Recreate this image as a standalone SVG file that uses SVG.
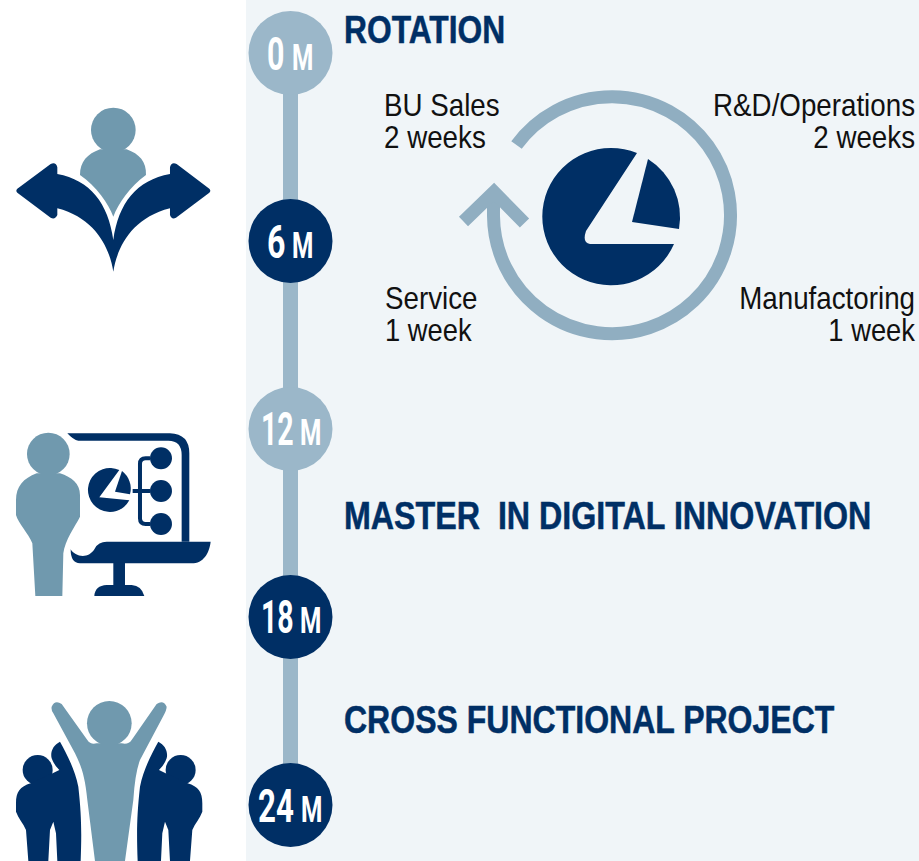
<svg xmlns="http://www.w3.org/2000/svg" width="919" height="861" viewBox="0 0 919 861">
<style>
.d{fill:#002f65}.m{fill:#7099ae}.l{fill:#9bb7c9}
.h{font:bold 38px "Liberation Sans",Arial,sans-serif;fill:#002f65;stroke:#002f65;stroke-width:.5px}
.t{font:32px "Liberation Sans",Arial,sans-serif;fill:#111}
.e{text-anchor:end}
.n{font:bold 46px "Roboto","Liberation Sans",sans-serif;fill:#fff}
.u{font:bold 37px "Roboto","Liberation Sans",sans-serif;fill:#fff}
</style>
<rect width="919" height="861" fill="#fff"/>
<rect x="246" width="673" height="861" fill="#f0f5f8"/>
<g id="connectors"><rect x="283" y="53" width="15" height="752" class="l"/></g>
<g id="m0"><circle cx="290.500" cy="53" r="42" class="l"/><text transform="matrix(.66 0 0 1 267 70)" class="n">0</text><text transform="matrix(.66 0 0 1 292 70)" class="u">M</text></g>
<g id="m6"><circle cx="290.500" cy="241" r="42" class="d"/><text transform="matrix(.7 0 0 1 267 258)" class="n">6</text><text transform="matrix(.66 0 0 1 292 258)" class="u">M</text></g>
<g id="m12"><circle cx="290.500" cy="429" r="42" class="l"/><text transform="matrix(.62 0 0 1 261 445)" class="n">12</text><text transform="matrix(.66 0 0 1 300 445)" class="u">M</text></g>
<g id="m18"><circle cx="290.500" cy="617" r="42" class="d"/><text transform="matrix(.62 0 0 1 261 633)" class="n">18</text><text transform="matrix(.66 0 0 1 300 633)" class="u">M</text></g>
<g id="m24"><circle cx="290.500" cy="805" r="42" class="d"/><text transform="matrix(.68 0 0 1 258 821.500)" class="n">24</text><text transform="matrix(.66 0 0 1 301 821.500)" class="u">M</text></g>
<g id="rotation"><text transform="matrix(.836 0 0 1 344 43)" class="h">ROTATION</text>
<text transform="matrix(.867 0 0 1 384 116)" class="t">BU Sales</text><text transform="matrix(.867 0 0 1 384 148)" class="t">2 weeks</text>
<text transform="matrix(.867 0 0 1 915 116)" class="t e">R&amp;D/Operations</text><text transform="matrix(.867 0 0 1 915 148)" class="t e">2 weeks</text>
<text transform="matrix(.867 0 0 1 385 309)" class="t">Service</text><text transform="matrix(.855 0 0 1 385 341)" class="t">1 week</text>
<text transform="matrix(.867 0 0 1 915 309)" class="t e">Manufactoring</text><text transform="matrix(.855 0 0 1 915 341)" class="t e">1 week</text></g>
<g id="cycle">
<path d="M516.500 145 A118.500 118.500 0 1 1 493.500 216 L493.500 195" fill="none" stroke="#90aec1" stroke-width="13"/>
<path d="M463.500 221.500 L494 192 L524.500 223" fill="none" stroke="#90aec1" stroke-width="13"/>
<path class="d" d="M637 153 L586 231 Q582 243 590 244 L674 244 A68.700 68.700 0 1 1 637 153Z"/>
<path class="d" d="M648 159 L632 222 L679 229 A68.700 68.700 0 0 0 648 159Z"/>
</g>
<text id="master" transform="matrix(.848 0 0 1 344 528.500)" class="h" xml:space="preserve">MASTER  IN DIGITAL INNOVATION</text>
<text id="cross" transform="matrix(.843 0 0 1 344 733)" class="h">CROSS FUNCTIONAL PROJECT</text>
<g id="icon-split" transform="translate(0 90) scale(.3333)">
<circle cx="340" cy="120" r="67" class="m"/>
<path class="m" d="M300 178C262 192 240 215 240 255C290 290 325 340 340 380C355 340 390 290 438 255C440 215 418 192 380 178Z"/>
<path class="d" d="M340 545C330 480 290 385 172 355L172 375Q165 390 152 383L52 308Q46 302 52 296L152 222Q168 215 172 232L172 252C270 270 325 340 340 450C355 340 410 270 510 252L510 232Q514 215 530 222L628 296Q634 302 628 308L528 383Q515 390 510 375L510 355C390 385 350 480 340 545Z"/>
</g>
<g id="icon-present" transform="translate(0 420) scale(.3333)">
<circle cx="145" cy="102" r="64" class="m"/>
<path class="m" d="M110 160C70 175 48 200 48 240L48 285C55 310 85 340 97 370L106 528L187 528L190 400C195 360 225 320 240 290L240 225C240 190 215 172 180 160Z"/>
<path class="d" d="M202 40L510 40Q568 42 568 100L568 365L545 365L545 105Q545 62 505 62L235 62Q220 60 202 40Z"/>
<path class="d" d="M358 150L298 232L388 241A66 66 0 1 1 358 150Z"/>
<path class="d" d="M366 153L345 215L390 223A66 66 0 0 0 366 153Z"/>
<circle cx="483" cy="115" r="33" class="d"/><circle cx="483" cy="213" r="33" class="d"/><circle cx="483" cy="312" r="33" class="d"/>
<path d="M450 115L437 115Q420 115 420 132L420 295Q420 312 437 312L450 312M398 213L450 213" fill="none" stroke="#002f65" stroke-width="12"/>
<path class="d" d="M320 365L632 365C628 400 610 430 575 430L240 430Q212 430 212 388C225 410 265 420 285 385Q295 365 320 365Z"/>
<rect x="340" y="428" width="35" height="70" class="d"/>
<path class="d" d="M283 528Q285 497 320 495L395 495Q425 497 433 528Z"/>
</g>
<g id="icon-team" transform="translate(0 690) scale(.3333)">
<defs><g id="side"><circle cx="113" cy="240" r="45"/><path d="M92 280C60 290 48 305 48 340L48 365C55 385 70 400 78 420L85 513L145 513L150 420L160 395L168 430L172 513L242 513C245 430 245 380 235 290C225 240 200 190 180 155C160 165 150 185 155 205Q162 225 178 240L158 250Z"/></g></defs>
<use href="#side" class="d"/><use href="#side" class="d" transform="translate(655 0) scale(-1 1)"/>
<circle cx="328" cy="100" r="67" class="m"/>
<path class="m" d="M155 50Q165 28 185 42L262 150Q272 165 290 160L365 160Q385 165 395 150L470 42Q490 28 500 50Q500 60 490 78L420 210Q405 250 400 330L375 513L285 513L262 330C255 260 245 230 225 190L160 70Q153 60 155 50Z"/>
</g>
</svg>
